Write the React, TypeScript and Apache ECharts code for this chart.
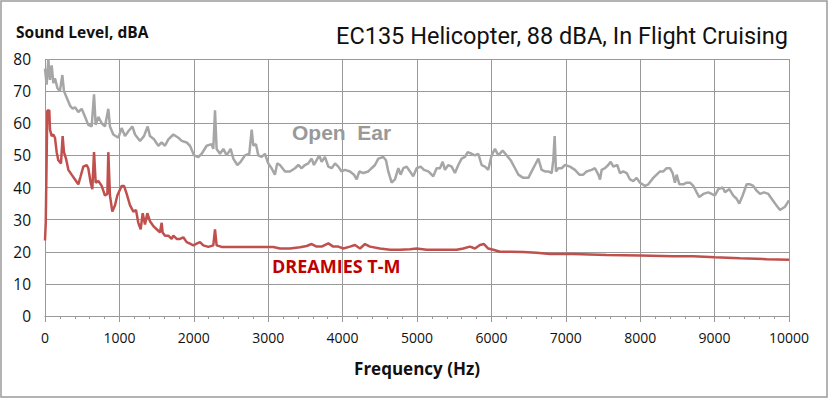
import React, { useEffect, useRef } from "react";
import * as echarts from "echarts";

const xTicks = [0, 1000, 2000, 3000, 4000, 5000, 6000, 7000, 8000, 9000, 10000];
const yTicks = [0, 10, 20, 30, 40, 50, 60, 70, 80];

const openEarHz = [0, 22, 45, 67, 90, 112, 134, 166, 200, 233, 255, 291, 336, 372, 403, 448, 493, 538, 582, 627, 659, 681, 717, 762, 806, 851, 873, 918, 986, 1030, 1075, 1120, 1174, 1210, 1277, 1330, 1380, 1411, 1465, 1523, 1568, 1613, 1658, 1725, 1792, 1837, 1904, 1949, 2003, 2061, 2106, 2173, 2240, 2262, 2285, 2307, 2352, 2397, 2442, 2495, 2531, 2585, 2630, 2688, 2746, 2778, 2800, 2836, 2867, 2912, 2956, 3000, 3045, 3090, 3121, 3158, 3226, 3293, 3360, 3405, 3450, 3494, 3539, 3584, 3615, 3651, 3687, 3718, 3763, 3808, 3853, 3898, 3942, 3987, 4032, 4099, 4153, 4189, 4225, 4278, 4346, 4390, 4435, 4480, 4547, 4583, 4614, 4659, 4704, 4749, 4780, 4816, 4861, 4906, 4950, 4995, 5049, 5094, 5152, 5219, 5264, 5309, 5345, 5376, 5421, 5466, 5510, 5555, 5600, 5645, 5681, 5734, 5779, 5824, 5869, 5914, 5958, 6003, 6048, 6093, 6151, 6205, 6259, 6317, 6362, 6429, 6497, 6541, 6586, 6631, 6675, 6720, 6765, 6810, 6832, 6850, 6868, 6900, 6944, 6989, 7056, 7123, 7182, 7235, 7280, 7347, 7392, 7437, 7460, 7482, 7527, 7571, 7603, 7639, 7692, 7728, 7773, 7818, 7863, 7907, 7952, 7997, 8064, 8109, 8176, 8221, 8266, 8311, 8355, 8400, 8436, 8467, 8490, 8526, 8579, 8624, 8669, 8714, 8759, 8794, 8848, 8915, 8960, 9005, 9050, 9108, 9140, 9198, 9251, 9296, 9332, 9377, 9431, 9476, 9520, 9565, 9610, 9664, 9722, 9767, 9812, 9879, 9946, 10000];
const openEarDb = [77, 72, 80, 73.5, 78, 72.5, 74, 71, 70, 75, 70, 68, 65.5, 64.5, 65, 63.5, 64.5, 62, 59.5, 59, 69, 59.5, 62, 60, 59, 64.5, 59, 56.5, 55.5, 58.5, 56, 57.5, 59, 56.5, 54.5, 56, 59, 56, 55, 53, 54, 53, 55, 56.5, 55.5, 54.5, 54, 53, 50, 49.5, 50.5, 53, 53.5, 52, 64, 52, 50.5, 52, 50, 52, 49, 47, 48, 50, 50.5, 58, 53, 53.5, 50, 49.5, 50.5, 47.5, 46, 44, 47.5, 47, 45, 45, 46, 47, 46, 47, 47.5, 49, 47, 48.5, 50, 48, 49.5, 46.5, 46, 47.5, 46.5, 45, 45.5, 45, 44, 42.5, 45, 44.5, 45, 46, 47, 49, 49.5, 48.5, 45, 41.5, 42.5, 46, 44, 46, 46.5, 45, 43.5, 46, 46.5, 45.5, 45, 43.5, 46, 46, 48, 45.5, 47, 46.5, 44.5, 47, 49, 49.5, 51, 50.5, 50, 50.5, 47, 46.5, 45.5, 50, 52, 50, 51.5, 50, 48.5, 46, 44, 43, 43, 45, 47, 49, 45.5, 45, 45, 44.5, 48.5, 56, 45, 46, 46, 47, 46.5, 45.5, 44, 44, 45, 45.5, 46, 44, 42.5, 45.5, 46, 47, 48, 46.5, 47, 44.5, 45, 44.5, 42.5, 42, 43, 41.5, 40.5, 41, 43, 44, 45, 45, 46, 46, 44.5, 41.5, 44, 41, 41, 41.5, 41.5, 40.5, 38.5, 37, 38, 38.5, 38, 37.5, 39.5, 40, 38.5, 39.5, 37.5, 36.5, 35, 37.5, 41, 41, 40.5, 39, 38, 38.5, 38, 36.5, 35, 33, 34, 36];

const dreamiesHz = [0, 10, 31, 58, 67, 90, 112, 134, 157, 179, 215, 237, 255, 282, 314, 358, 403, 448, 479, 515, 560, 582, 614, 636, 659, 681, 717, 762, 806, 838, 851, 873, 905, 941, 972, 1030, 1062, 1098, 1142, 1187, 1223, 1254, 1286, 1313, 1344, 1375, 1411, 1456, 1501, 1545, 1568, 1581, 1613, 1658, 1702, 1725, 1770, 1815, 1859, 1904, 1949, 1994, 2038, 2083, 2128, 2195, 2262, 2285, 2307, 2374, 2441, 2531, 2620, 2710, 2800, 2890, 2979, 3069, 3158, 3293, 3427, 3517, 3584, 3651, 3718, 3808, 3875, 3942, 4010, 4099, 4166, 4234, 4301, 4368, 4502, 4637, 4771, 4906, 4995, 5130, 5264, 5398, 5533, 5622, 5712, 5779, 5846, 5900, 5958, 6025, 6115, 6250, 6429, 6608, 6787, 7101, 7549, 7997, 8445, 8714, 9005, 9341, 9700, 10000];
const dreamiesDb = [23.5, 29, 64, 64, 58, 56, 56.5, 55.5, 51, 48.5, 47.5, 56, 51, 49, 45.5, 44, 42.5, 41, 43.5, 46.5, 47, 46, 41.5, 39.5, 51, 41.5, 42, 40.5, 37.5, 38, 51, 37.5, 32.5, 34.5, 37.5, 40.5, 40.5, 38, 34.5, 32.5, 33, 29, 27, 32, 28.5, 32, 29.5, 28, 27, 26, 29, 26, 25, 25, 24, 25, 24, 24, 24.5, 23, 22.5, 22, 22.5, 23, 22, 21.5, 22, 27, 22, 21.5, 21.5, 21.5, 21.5, 21.5, 21.5, 21.5, 21.5, 21.5, 21, 21, 21.4, 21.8, 22.4, 21.6, 21.6, 22.6, 21.6, 21.6, 21, 21.6, 22.1, 21, 22.4, 21.6, 21, 20.6, 20.6, 20.8, 21, 20.6, 20.6, 20.6, 20.6, 21, 21.6, 21, 22.1, 22.4, 21, 20.6, 20, 20, 19.9, 19.7, 19.3, 19.3, 19, 18.8, 18.6, 18.6, 18.3, 18, 17.7, 17.5];

const openEarName = "Open  Ear";
const dreamiesName = "DREAMIES T-M";
const titleText = "EC135 Helicopter, 88 dBA, In Flight Cruising";
const yAxisTitle = "Sound Level, dBA";
const xAxisTitle = "Frequency (Hz)";

export default function App() {
  const ref = useRef<HTMLDivElement>(null);
  useEffect(() => {
    if (!ref.current) return;
    const chart = echarts.init(ref.current, null, { renderer: "svg" });
    const openEar = openEarHz.map((h, i) => [h, openEarDb[i]]);
    const dreamies = dreamiesHz.map((h, i) => [h, dreamiesDb[i]]);
    const font = "'Open Sans', 'Liberation Sans', sans-serif";
    chart.setOption({
      animation: false,
      backgroundColor: "#ffffff",
      grid: { left: 45, right: 41, top: 59, bottom: 83, containLabel: false },
      title: [
        {
          text: titleText,
          right: 37,
          top: 19,
          textStyle: { fontFamily: "Roboto, sans-serif", fontSize: 23.5, fontWeight: "normal", color: "#111" },
        },
        {
          text: yAxisTitle,
          left: 11,
          top: 19,
          textStyle: { fontFamily: font, fontSize: 15.5, fontWeight: "bold", color: "#111" },
        },
      ],
      xAxis: {
        type: "value",
        min: xTicks[0],
        max: xTicks[xTicks.length - 1],
        interval: 1000,
        name: xAxisTitle,
        nameLocation: "middle",
        nameGap: 44,
        nameTextStyle: { fontFamily: font, fontSize: 17, fontWeight: "bold", color: "#111" },
        axisLine: { lineStyle: { color: "#999", width: 1 } },
        axisTick: { show: true, length: 6, lineStyle: { color: "#999" } },
        minorTick: { show: true, splitNumber: 5, length: 3, lineStyle: { color: "#999" } },
        splitLine: { show: true, lineStyle: { color: "#999", width: 1 } },
        axisLabel: { fontFamily: font, fontSize: 14, color: "#111", margin: 14, formatter: (v: number) => String(v) },
      },
      yAxis: {
        type: "value",
        min: yTicks[0],
        max: yTicks[yTicks.length - 1],
        interval: 10,
        axisLine: { show: false },
        axisTick: { show: false },
        splitLine: { show: true, lineStyle: { color: "#999", width: 1 } },
        axisLabel: { fontFamily: font, fontSize: 15.5, color: "#111", margin: 14 },
      },
      graphic: [
        {
          type: "rect",
          shape: { x: 1, y: 1, width: 826, height: 396 },
          style: { fill: "none", stroke: "#9a9a9a", lineWidth: 1.5 },
          silent: true,
        },
        {
          type: "text",
          left: 292,
          top: 122,
          style: { text: openEarName, fontFamily: "'Liberation Sans', Arial, sans-serif", fontSize: 21, fontWeight: "bold", fill: "#999999" },
        },
        {
          type: "text",
          left: 272,
          top: 257,
          style: { text: dreamiesName, fontFamily: font, fontSize: 18, fontWeight: "bold", fill: "#c00000" },
        },
      ],
      series: [
        {
          name: openEarName,
          type: "line",
          data: openEar,
          showSymbol: false,
          lineStyle: { color: "#a6a6a6", width: 2.5 },
        },
        {
          name: dreamiesName,
          type: "line",
          data: dreamies,
          showSymbol: false,
          lineStyle: { color: "#c0504d", width: 2.5 },
        },
      ],
    });
    return () => chart.dispose();
  }, []);
  return <div ref={ref} style={{ position: "fixed", left: 0, top: 0, width: 830, height: 399 }} />;
}
